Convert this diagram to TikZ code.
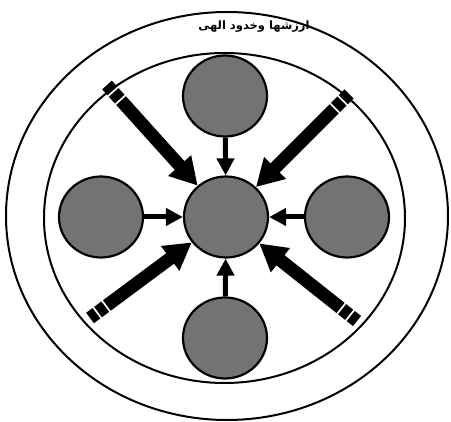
\documentclass[tikz,border=0pt]{standalone}
\usepackage{fontspec}
\newfontfamily\arabicfont[Script=Arabic]{DejaVu Sans}
\TeXXeTstate=1
\usetikzlibrary{shapes.geometric,arrows.meta,calc}
\begin{document}
\begin{tikzpicture}[x=1pt,y=-1pt,
  ring/.style={draw,line width=2pt},
  disc/.style={ellipse,draw,line width=2.2pt,fill=black!55,minimum width=84pt,minimum height=81pt,inner sep=0pt},
  small/.style={line width=5pt,-{Triangle[width=17pt,length=17pt]}},
  big/.style={line width=13pt,-{Triangle[width=29pt,length=27pt]}},
  seg/.style={line width=13pt}]
\useasboundingbox (0,0) rectangle (451,422);
\draw[ring] (227,216) ellipse [x radius=221, y radius=204];
\draw[ring] (224.5,218) ellipse [x radius=180.5, y radius=165];
\node[font=\arabicfont\bfseries\fontsize{11.5}{14}\selectfont] (title) at (254,27) {\beginR ارزشها وخدود الهی\endR};
\node[disc] (c) at (226,217) {};
\node[disc] (t) at (225,96) {};
\node[disc] (l) at (101,217) {};
\node[disc] (r) at (347,217) {};
\node[disc] (b) at (225,338) {};
\draw[small] (t) -- (c);
\draw[small] (l) -- (c);
\draw[small] (r) -- (c);
\draw[small] (b) -- (c);
\coordinate (ul) at (107,85);
\coordinate (ur) at (349,94);
\coordinate (ll) at (90,318);
\coordinate (lr) at (357,321);
\foreach \n in {ul,ur,ll,lr}{
  \draw[seg] (\n) -- ($(\n)!8pt!(c)$);
  \draw[seg] ($(\n)!10pt!(c)$) -- ($(\n)!19pt!(c)$);
  \draw[big] ($(\n)!21pt!(c)$) -- (c);
}
\end{tikzpicture}
\end{document}
